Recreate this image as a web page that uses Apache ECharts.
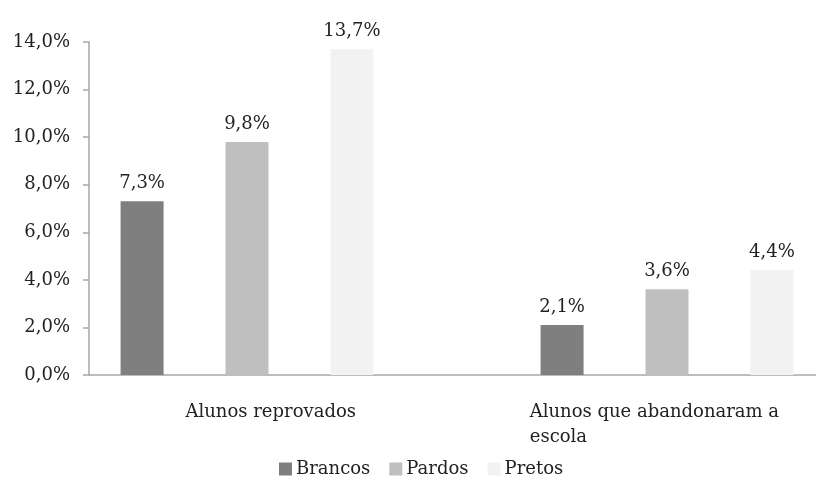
<!DOCTYPE html>
<html>
<head>
<meta charset="utf-8">
<script src="https://cdn.jsdelivr.net/npm/echarts@6/dist/echarts.min.js"></script>
<style>
  html, body { margin: 0; padding: 0; background: #fff; }
  #chart { width: 816px; height: 483px; }
</style>
</head>
<body>
<div id="chart"></div>
<script>
var categories = ["Alunos reprovados", "Alunos que abandonaram a escola"];
var brancos = [7.3, 2.1];
var pardos = [9.8, 3.6];
var pretos = [13.7, 4.4];
var yTicks = [0, 2, 4, 6, 8, 10, 12, 14];

var font = "DejaVu Serif";
var axisColor = "#a6a6a6";

function pct(v) {
  return v.toFixed(1).replace(".", ",") + "%";
}

var chart = echarts.init(document.getElementById("chart"));

function barSeries(name, data, color) {
  return {
    name: name,
    type: "bar",
    xAxisIndex: 1,
    yAxisIndex: 1,
    data: data,
    barWidth: 43,
    barGap: "144%",
    clip: false,
    itemStyle: { color: color },
    label: {
      show: true,
      position: "top",
      distance: 9,
      fontFamily: font,
      fontSize: 18,
      color: "#222",
      formatter: function (p) { return pct(p.value); }
    }
  };
}

var option = {
  animation: false,
  textStyle: { fontFamily: font },
  // grid 0 holds the visible axes, grid 1 places the bar groups
  grid: [
    { left: 89, right: 0, top: 42, bottom: 108, outerBoundsMode: "none" },
    { left: 37, width: 840, top: 42, bottom: 108, outerBoundsMode: "none" }
  ],
  legend: {
    bottom: 0,
    left: 274,
    itemWidth: 13,
    itemHeight: 13,
    itemGap: 19,
    icon: "rect",
    textStyle: { fontFamily: font, fontSize: 18, color: "#222", padding: [0, 0, 0, -1] },
    data: ["Brancos", "Pardos", "Pretos"]
  },
  xAxis: [
    {
      type: "category",
      gridIndex: 0,
      data: categories,
      axisLine: { lineStyle: { color: axisColor, width: 1.5 } },
      axisTick: { show: false },
      axisLabel: {
        interval: 0,
        margin: 25,
        fontFamily: font,
        fontSize: 18,
        color: "#222",
        lineHeight: 25,
        formatter: function (v, i) {
          if (i === 1) return "{w|Alunos que abandonaram a}\n{w|escola}";
          return v;
        },
        rich: {
          w: { width: 262, align: "left", padding: [0, 0, 0, 53], fontFamily: font, fontSize: 18, color: "#222", lineHeight: 25 }
        }
      }
    },
    {
      type: "category",
      gridIndex: 1,
      data: categories,
      show: false
    }
  ],
  yAxis: [
    {
      type: "value",
      gridIndex: 0,
      min: 0,
      max: 14,
      interval: 2,
      axisLine: { show: true, lineStyle: { color: axisColor, width: 1.5 } },
      axisTick: { show: true, length: 6, lineStyle: { color: axisColor, width: 1.5 } },
      splitLine: { show: false },
      axisLabel: {
        margin: 19,
        fontFamily: font,
        fontSize: 18,
        color: "#222",
        formatter: function (v) { return pct(v); }
      }
    },
    {
      type: "value",
      gridIndex: 1,
      min: 0,
      max: 14,
      show: false,
      splitLine: { show: false }
    }
  ],
  series: [
    barSeries("Brancos", brancos, "#7f7f7f"),
    barSeries("Pardos", pardos, "#bfbfbf"),
    barSeries("Pretos", pretos, "#f2f2f2")
  ]
};

chart.setOption(option);
</script>
</body>
</html>
